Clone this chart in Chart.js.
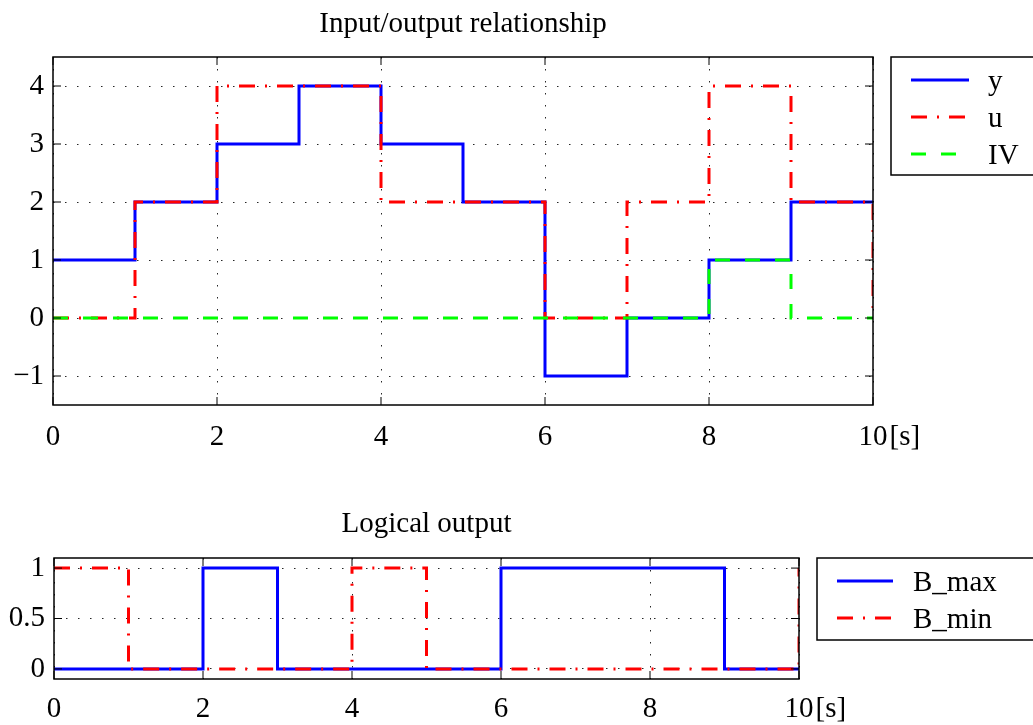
<!DOCTYPE html>
<html>
<head>
<meta charset="utf-8">
<script src="https://cdn.jsdelivr.net/npm/chart.js@4.4.1/dist/chart.umd.min.js"></script>
<style>
    html, body { margin: 0; padding: 0; background: #fff; }
    body { width: 1033px; height: 725px; position: relative; overflow: hidden; }
    .box { position: absolute; left: 0; width: 1033px; }
    #boxTop { top: 0; height: 470px; }
    #boxBottom { top: 480px; height: 245px; }
</style>
</head>
<body>
<div class="box" id="boxTop"><canvas id="chartTop"></canvas></div>
<div class="box" id="boxBottom"><canvas id="chartBottom"></canvas></div>

<script>
    // --- Dados ---
    const tempo = [0, 1, 2, 3, 4, 5, 6, 7, 8, 9, 10];
    const saidaY = [1, 2, 3, 4, 3, 2, -1, 0, 1, 2, 2];
    const entradaU = [0, 2, 4, 4, 2, 2, 0, 2, 4, 2, 0];
    const valorIV = [0, 0, 0, 0, 0, 0, 0, 0, 1, 0, 0];
    const bMax = [0, 0, 1, 0, 0, 0, 1, 1, 1, 0, 0];
    const bMin = [1, 0, 0, 0, 1, 0, 0, 0, 0, 0, 1];

    const xTicks = [0, 2, 4, 6, 8, 10];
    const yTicksTop = [-1, 0, 1, 2, 3, 4];
    const yTicksBottom = [0, 0.5, 1];

    const FONT = 'Liberation Serif';
    const FSIZE = 29;
    const pts = (vals) => tempo.map((t, i) => ({ x: t, y: vals[i] }));

    // --- Moldura com marcas internas + "[s]" + legenda com borda ---
    const framePlugin = {
        id: 'matlabFrame',
        afterDraw(chart, args, opts) {
            const ctx = chart.ctx;
            const a = chart.chartArea;
            const xs = chart.scales.x, ys = chart.scales.y;
            ctx.save();
            ctx.strokeStyle = '#000';
            ctx.lineWidth = 1.5;
            ctx.setLineDash([]);
            ctx.strokeRect(a.left, a.top, a.right - a.left, a.bottom - a.top);
            ctx.beginPath();
            xs.ticks.forEach(t => {
                const px = xs.getPixelForValue(t.value);
                ctx.moveTo(px, a.bottom); ctx.lineTo(px, a.bottom - 8);
                ctx.moveTo(px, a.top); ctx.lineTo(px, a.top + 8);
            });
            ys.ticks.forEach(t => {
                const py = ys.getPixelForValue(t.value);
                ctx.moveTo(a.left, py); ctx.lineTo(a.left + 8, py);
                ctx.moveTo(a.right, py); ctx.lineTo(a.right - 8, py);
            });
            ctx.lineWidth = 1;
            ctx.stroke();

            // unidade ao lado do ultimo rotulo
            ctx.font = FSIZE + 'px "' + FONT + '"';
            ctx.fillStyle = '#000';
            ctx.textBaseline = 'middle';
            ctx.textAlign = 'left';
            const lastX = xs.getPixelForValue(10);
            const w10 = ctx.measureText('10').width;
            ctx.fillText('[s]', lastX + w10 / 2 + 2, a.bottom + xs.options.ticks.padding + FSIZE * 0.6);

            // legenda
            const L = opts.legend;
            ctx.lineWidth = 1.5;
            ctx.strokeRect(L.x, L.y, L.w, L.h);
            chart.data.datasets.forEach((ds, i) => {
                const ry = L.rows[i];
                ctx.beginPath();
                ctx.strokeStyle = ds.borderColor;
                ctx.lineWidth = ds.borderWidth;
                ctx.setLineDash(ds.borderDash || []);
                ctx.moveTo(L.x1, ry); ctx.lineTo(L.x2, ry);
                ctx.stroke();
                ctx.setLineDash([]);
                ctx.fillStyle = '#000';
                ctx.fillText(ds.label, L.tx, ry + 2);
            });
            ctx.restore();
        }
    };

    function baseScales(yMin, yMax, yTicks, axisH, axisW, xPad) {
        const grid = { color: 'rgba(0,0,0,0.85)', lineWidth: 1, drawTicks: false };
        const border = { display: false, dash: [1.5, 10.5] };
        const font = { family: FONT, size: FSIZE };
        return {
            x: {
                type: 'linear', min: 0, max: 10,
                grid: grid, border: border,
                afterBuildTicks: s => { s.ticks = xTicks.map(v => ({ value: v })); },
                afterFit: s => { s.height = axisH; },
                ticks: { color: '#000', font: font, padding: xPad, maxRotation: 0 }
            },
            y: {
                min: yMin, max: yMax,
                grid: grid, border: border,
                afterBuildTicks: s => { s.ticks = yTicks.map(v => ({ value: v })); },
                afterFit: s => { s.width = axisW; },
                ticks: {
                    color: '#000', font: font, padding: 9,
                    callback: v => String(v).replace('-', '\u2212')
                }
            }
        };
    }

    // --- Grafico superior ---
    new Chart(document.getElementById('chartTop'), {
        type: 'line',
        data: {
            datasets: [
                { label: 'y', data: pts(saidaY), borderColor: '#0000ff', borderWidth: 3, order: 3 },
                { label: 'u', data: pts(entradaU), borderColor: '#ff0000', borderWidth: 3, borderDash: [16, 10, 2, 10], order: 2 },
                { label: 'IV', data: pts(valorIV), borderColor: '#00ff00', borderWidth: 3, borderDash: [15, 15], order: 1 }
            ]
        },
        options: {
            responsive: true, maintainAspectRatio: false, animation: false,
            elements: { point: { radius: 0 }, line: { stepped: true, borderJoinStyle: 'miter', borderCapStyle: 'butt', fill: false } },
            layout: { padding: { left: 0, right: 160, top: 0, bottom: 0 } },
            scales: baseScales(-1.5, 4.5, yTicksTop, 65, 53, 15),
            plugins: {
                legend: { display: false },
                tooltip: { enabled: false },
                title: {
                    display: true, text: 'Input/output relationship', fullSize: false,
                    color: '#000', font: { family: FONT, size: FSIZE, weight: 'normal' },
                    padding: { top: 7, bottom: 15.2 }
                },
                matlabFrame: { legend: { x: 891, y: 57, w: 150, h: 118, x1: 911, x2: 969, tx: 988, rows: [80, 117, 154] } }
            }
        },
        plugins: [framePlugin]
    });

    // --- Grafico inferior ---
    new Chart(document.getElementById('chartBottom'), {
        type: 'line',
        data: {
            datasets: [
                { label: 'B_max', data: pts(bMax), borderColor: '#0000ff', borderWidth: 3, order: 2 },
                { label: 'B_min', data: pts(bMin), borderColor: '#ff0000', borderWidth: 3, borderDash: [16, 10, 2, 10], order: 1 }
            ]
        },
        options: {
            responsive: true, maintainAspectRatio: false, animation: false,
            elements: { point: { radius: 0 }, line: { stepped: true, borderJoinStyle: 'miter', borderCapStyle: 'butt', fill: false } },
            layout: { padding: { left: 0, right: 234, top: 0, bottom: 0 } },
            scales: baseScales(-0.1, 1.1, yTicksBottom, 46, 54, 13),
            plugins: {
                legend: { display: false },
                tooltip: { enabled: false },
                title: {
                    display: true, text: 'Logical output', fullSize: false,
                    color: '#000', font: { family: FONT, size: FSIZE, weight: 'normal' },
                    padding: { top: 27.2, bottom: 16 }
                },
                matlabFrame: { legend: { x: 817, y: 78, w: 230, h: 82, x1: 837, x2: 893, tx: 913, rows: [101, 138] } }
            }
        },
        plugins: [framePlugin]
    });
</script>
</body>
</html>
